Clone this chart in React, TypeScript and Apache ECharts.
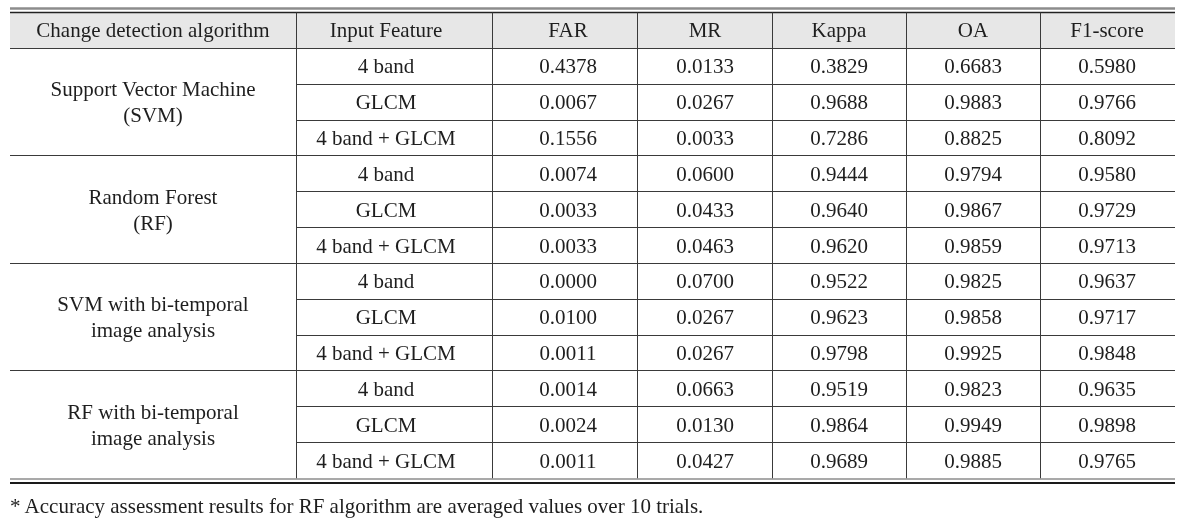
import React, { useEffect, useRef } from "react";
import * as echarts from "echarts";

const headers = ["Change detection algorithm", "Input Feature", "FAR", "MR", "Kappa", "OA", "F1-score"];
const algorithms = [
  "Support Vector Machine\n(SVM)",
  "Random Forest\n(RF)",
  "SVM with bi-temporal\nimage analysis",
  "RF with bi-temporal\nimage analysis",
];
const features = ["4 band", "GLCM", "4 band + GLCM"];
const FAR = [0.4378, 0.0067, 0.1556, 0.0074, 0.0033, 0.0033, 0.0, 0.01, 0.0011, 0.0014, 0.0024, 0.0011];
const MR = [0.0133, 0.0267, 0.0033, 0.06, 0.0433, 0.0463, 0.07, 0.0267, 0.0267, 0.0663, 0.013, 0.0427];
const Kappa = [0.3829, 0.9688, 0.7286, 0.9444, 0.964, 0.962, 0.9522, 0.9623, 0.9798, 0.9519, 0.9864, 0.9689];
const OA = [0.6683, 0.9883, 0.8825, 0.9794, 0.9867, 0.9859, 0.9825, 0.9858, 0.9925, 0.9823, 0.9949, 0.9885];
const F1 = [0.598, 0.9766, 0.8092, 0.958, 0.9729, 0.9713, 0.9637, 0.9717, 0.9848, 0.9635, 0.9898, 0.9765];
const footnote = "* Accuracy assessment results for RF algorithm are averaged values over 10 trials.";

// layout (axis units: x in px from table left, y in rows)
const colEdges = [0, 286, 482, 627, 762, 896, 1030, 1165];
const textCenters = [143, 376, 558, 695, 829, 963, 1097];
const TABLE_W = 1165;
const ROWS = 13;
const FONT_FAMILY = "serif";
const FONT_SIZE = 21;
const TEXT_COLOR = "#1e1e1e";

type Cell = { x: number; y: number; text: string };

function buildCells(): Cell[] {
  const cells: Cell[] = [];
  headers.forEach((h, i) => cells.push({ x: textCenters[i], y: 0.5, text: h }));
  algorithms.forEach((a, g) => cells.push({ x: textCenters[0], y: 1 + g * 3 + 1.5, text: a }));
  const metrics = [FAR, MR, Kappa, OA, F1];
  for (let r = 0; r < 12; r++) {
    cells.push({ x: textCenters[1], y: 1 + r + 0.5, text: features[r % 3] });
    metrics.forEach((m, k) => cells.push({ x: textCenters[2 + k], y: 1 + r + 0.5, text: m[r].toFixed(4) }));
  }
  return cells;
}

type Ln = { x1: number; y1: number; x2: number; y2: number; color: string; w: number };

function buildLines(): Ln[] {
  const L: Ln[] = [];
  const dark = "#3a3a3a";
  L.push({ x1: 0, y1: -0.117, x2: TABLE_W, y2: -0.117, color: "#8c8c8c", w: 2.5 });
  L.push({ x1: 0, y1: 0, x2: TABLE_W, y2: 0, color: "#222", w: 1.3 });
  [1, 4, 7, 10].forEach((y) => L.push({ x1: 0, y1: y, x2: TABLE_W, y2: y, color: dark, w: 1 }));
  [2, 3, 5, 6, 8, 9, 11, 12].forEach((y) =>
    L.push({ x1: colEdges[1], y1: y, x2: TABLE_W, y2: y, color: dark, w: 1 })
  );
  for (let i = 1; i < colEdges.length - 1; i++) {
    L.push({ x1: colEdges[i], y1: 0, x2: colEdges[i], y2: ROWS, color: dark, w: 1 });
  }
  L.push({ x1: 0, y1: ROWS, x2: TABLE_W, y2: ROWS, color: "#8c8c8c", w: 1.6 });
  L.push({ x1: 0, y1: ROWS + 0.13, x2: TABLE_W, y2: ROWS + 0.13, color: "#1a1a1a", w: 2 });
  return L;
}

export default function App() {
  const ref = useRef<HTMLDivElement>(null);
  useEffect(() => {
    if (!ref.current) return;
    const chart = echarts.init(ref.current, undefined, { renderer: "svg" });
    const cells = buildCells();
    const lines = buildLines();
    const crisp = (v: number, w: number) => (Math.round(w) % 2 === 1 ? Math.floor(v) + 0.5 : Math.round(v));
    chart.setOption({
      animation: false,
      grid: { left: 10, right: 20, top: 12.5, bottom: 47.5 },
      xAxis: { type: "value", min: 0, max: TABLE_W, show: false },
      yAxis: { type: "value", min: 0, max: ROWS, inverse: true, show: false },
      series: [
        {
          type: "custom",
          name: "rules",
          data: lines.map((l) => [l.x1, l.y1, l.x2, l.y2]),
          encode: { x: [0, 2], y: [1, 3] },
          silent: true,
          z: 3,
          renderItem: (params: any, api: any) => {
            const l = lines[params.dataIndex];
            const p1 = api.coord([api.value(0), api.value(1)]);
            const p2 = api.coord([api.value(2), api.value(3)]);
            let x1 = p1[0], y1 = p1[1], x2 = p2[0], y2 = p2[1];
            if (Math.abs(y1 - y2) < 0.01) {
              y1 = y2 = crisp(y1, l.w);
            } else {
              x1 = x2 = crisp(x1, l.w);
            }
            return {
              type: "line",
              shape: { x1, y1, x2, y2 },
              style: { stroke: l.color, lineWidth: l.w },
            };
          },
        },
      ],
    });
    const h1 = chart.convertToPixel({ gridIndex: 0 }, [0, 0]) as number[];
    const h2 = chart.convertToPixel({ gridIndex: 0 }, [TABLE_W, 1]) as number[];
    const headerBg = {
      type: "rect",
      silent: true,
      shape: { x: h1[0], y: h1[1], width: h2[0] - h1[0], height: h2[1] - h1[1] },
      style: { fill: "#e7e7e7" },
    };
    const textEls = cells.map((c) => {
      const p = chart.convertToPixel({ gridIndex: 0 }, [c.x, c.y]) as number[];
      return {
        type: "text",
        x: p[0],
        y: p[1],
        silent: true,
        style: {
          text: c.text,
          fontFamily: FONT_FAMILY,
          fontSize: FONT_SIZE,
          fill: TEXT_COLOR,
          align: "center",
          verticalAlign: "middle",
          lineHeight: 26,
        },
      };
    });
    chart.setOption({
      graphic: [
        headerBg,
        ...textEls,
        {
          type: "text",
          left: 10,
          top: 495,
          style: { text: footnote, fontFamily: FONT_FAMILY, fontSize: FONT_SIZE, fill: TEXT_COLOR },
        },
      ],
    });
    return () => chart.dispose();
  }, []);
  return <div ref={ref} style={{ position: "fixed", left: 0, top: 0, width: 1195, height: 526 }} />;
}
